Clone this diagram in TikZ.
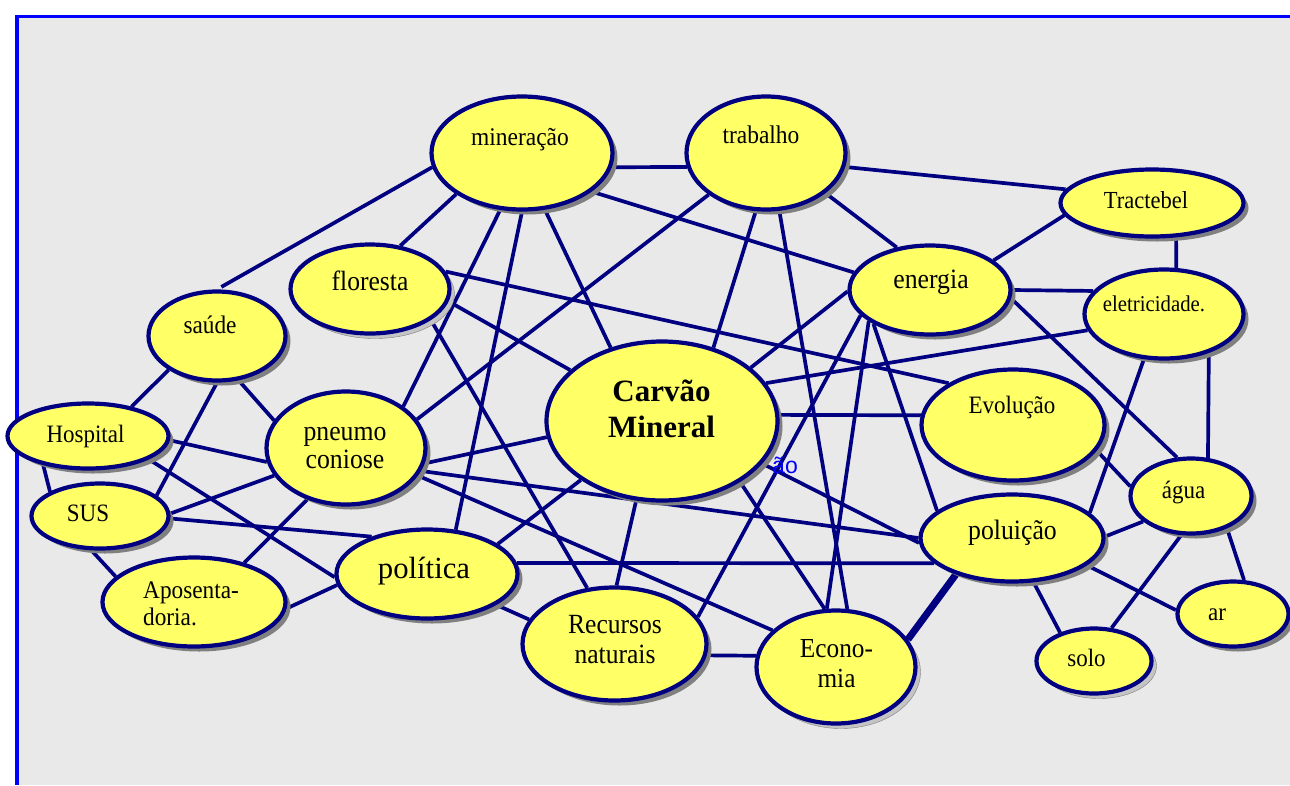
\documentclass[tikz,border=0pt]{standalone}
\usepackage{fontspec}
\setmainfont{Liberation Serif}[FakeStretch=0.92]
\newfontfamily\widefont{Liberation Serif}
\newfontfamily\blusans{Liberation Sans}
\usetikzlibrary{shapes.geometric,shadows}
\definecolor{navy}{HTML}{000080}
\definecolor{bubfill}{HTML}{FFFF66}
\definecolor{bggray}{HTML}{E9E9E9}
\definecolor{frameblue}{HTML}{0000FF}
\definecolor{shad}{HTML}{808080}
\definecolor{lshad}{HTML}{C4C4C4}
\pgfdeclarelayer{bg}
\pgfdeclarelayer{edges}
\pgfsetlayers{bg,edges,main}
\newcommand\twolc[2]{\vtop{\halign{\hfil##\hfil\cr #1\cr #2\cr}}}
\newcommand\twoll[2]{\vtop{\halign{##\hfil\cr #1\cr #2\cr}}}
\newcommand\fs[2]{\fontsize{#1}{#2}\selectfont}
\tikzset{
  bub/.style={ellipse, draw=navy, line width=4.2pt, fill=bubfill, inner sep=0pt,
    drop shadow={shadow xshift=5pt, shadow yshift=-5pt, fill=shad, opacity=1}},
  bubl/.style={ellipse, draw=navy, line width=4.2pt, fill=bubfill, inner sep=0pt,
    drop shadow={shadow xshift=5pt, shadow yshift=-5pt, fill=lshad, draw=shad, line width=0.4pt, opacity=1}},
  lbl/.style={inner sep=0pt, anchor=base, text=black},
  link/.style={draw=navy, line width=3.7pt},
  thicklink/.style={draw=navy, line width=7pt}
}
\begin{document}
\begin{tikzpicture}[x=1pt,y=-1pt]
\useasboundingbox (0,0) rectangle (1290,785);
\begin{pgfonlayer}{bg}
  \fill[white] (0,0) rectangle (1290,785);
  \fill[bggray] (17,17) rectangle (1290,785);
  \draw[frameblue, line width=3.5pt] (15,16.5) -- (1290,16.5);
  \draw[frameblue, line width=4pt] (17,15) -- (17,785);
\end{pgfonlayer}

% nodes
\node[bub, minimum width=181pt, minimum height=113pt] (min) at (522,153) {};
\node[bub, minimum width=159pt, minimum height=113pt] (trab) at (766,153) {};
\node[bub, minimum width=183pt, minimum height=67pt] (tract) at (1152,203) {};
\node[bub, minimum width=161pt, minimum height=89pt] (ener) at (930,290) {};
\node[bub, minimum width=159pt, minimum height=89pt] (elet) at (1164,314) {};
\node[bubl, minimum width=159pt, minimum height=89pt] (flor) at (370,289) {};
\node[bub, minimum width=137pt, minimum height=89pt] (saude) at (217,336) {};
\node[bub, minimum width=231pt, minimum height=159pt] (carv) at (662,421) {};
\node[bub, minimum width=183pt, minimum height=111pt] (evol) at (1013,425) {};
\node[bub, minimum width=161pt, minimum height=65pt] (hosp) at (88,436) {};
\node[bub, minimum width=159pt, minimum height=113pt] (pneu) at (346,448) {};
\node[bub, minimum width=137pt, minimum height=65pt] (sus) at (100,516) {};
\node[bub, minimum width=121pt, minimum height=75pt] (agua) at (1191,496) {};
\node[bub, minimum width=183pt, minimum height=87pt] (polu) at (1012,538) {};
\node[bub, minimum width=181pt, minimum height=89pt] (poli) at (427,574) {};
\node[bub, minimum width=183pt, minimum height=89pt] (apos) at (194,602) {};
\node[bub, minimum width=184pt, minimum height=113pt] (recu) at (614.5,644) {};
\node[bubl, minimum width=159pt, minimum height=113pt] (econ) at (836,667) {};
\node[bub, minimum width=111pt, minimum height=65pt] (ar) at (1233,614) {};
\node[bubl, minimum width=115pt, minimum height=65pt] (solo) at (1094,661) {};

% labels
\node[lbl, font=\fs{25.5}{28}] (tmin) at (520,145) {mineração};
\node[lbl, font=\fs{25.5}{28}] (ttrab) at (761,143) {trabalho};
\node[lbl, font=\fs{24.5}{27}] (ttract) at (1146,208) {Tractebel};
\node[lbl, font=\fs{28}{30}] (tener) at (931,288) {energia};
\node[lbl, font=\fs{22.6}{25}] (telet) at (1154,311) {eletricidade.};
\node[lbl, font=\fs{27.8}{30}] (tflor) at (370,290) {floresta};
\node[lbl, font=\fs{25.3}{28}] (tsaude) at (210,333) {saúde};
\node[lbl, font=\widefont\bfseries\fs{31}{36}] (tcarv) at (661.5,401) {\twolc{Carvão}{Mineral}};
\node[lbl, font=\fs{25}{28}] (tevol) at (1012,413) {Evolução};
\node[lbl, font=\fs{25}{28}] (thosp) at (85.5,442) {Hospital};
\node[lbl, font=\fs{28}{28}] (tpneu) at (345,440) {\twolc{pneumo}{coniose}};
\node[lbl, font=\fs{25}{28}] (tsus) at (88,521) {SUS};
\node[lbl, font=\fs{25}{28}] (tagua) at (1183.5,498) {água};
\node[lbl, font=\fs{28}{30}] (tpolu) at (1012.5,539) {poluição};
\node[lbl, font=\widefont\fs{30.7}{34}] (tpoli) at (424,578) {política};
\node[lbl, anchor=base west, font=\fs{25.3}{27}] (tapos) at (143,598) {\twoll{Aposenta-}{doria.}};
\node[lbl, font=\fs{27.8}{30}] (trecu) at (615,633) {\twolc{Recursos}{naturais}};
\node[lbl, font=\fs{27.5}{30}] (tecon) at (836.5,657) {\twolc{Econo-}{mia}};
\node[lbl, font=\fs{25}{28}] (tar) at (1217,620) {ar};
\node[lbl, font=\fs{25}{28}] (tsolo) at (1086.5,666) {solo};

\begin{pgfonlayer}{edges}
\draw[link] (min.-9) -- (trab.190);
\draw[link] (trab.-10) -- (tract.171);
\draw[link, shorten >=5pt] (min.189) -- (saude.90);
\draw[link] (min.212) -- (flor.55);
\draw[link] (min.249) -- (pneu.36);
\draw[link] (min.270) -- (poli.57);
\draw[link] (min.-68) -- (carv.125);
\draw[link] (min.-29) -- (ener.167);
\draw[link] (trab.216) -- (pneu.22);
\draw[link] (trab.260) -- (carv.55);
\draw[link] (trab.283) -- (econ.79);
\draw[link] (trab.-34) -- (ener.128);
\draw[link] (ener.25) -- (tract.188);
\draw[link] (tract.-55) -- (elet.75);
\draw[link] (ener.0) -- (elet.162);
\draw[link] (ener.-6) -- (agua.110);
\draw[link] (elet.192) -- (carv.20);
\draw[link] (elet.246) -- (polu.18);
\draw[link] (elet.-41) -- (agua.66);
\draw[link] (ener.181) -- (carv.31);
\draw[link] (ener.200) -- (recu.18);
\draw[link] (ener.207) -- (econ.99);
\draw[link] (ener.211) -- (polu.160);
\draw[link] (flor.13) -- (evol.147);
\draw[link] (flor.-9) -- (carv.151);
\draw[link] (flor.-27) -- (recu.116);
\draw[link] (saude.215) -- (hosp.34);
\draw[link] (saude.-90) -- (sus.20);
\draw[link] (saude.-64) -- (pneu.159);
\draw[link] (hosp.-3) -- (pneu.190);
\draw[link] (hosp.213) -- (sus.154);
\draw[link] (hosp.-21) -- (poli.182);
\draw[link] (sus.2) -- (pneu.201);
\draw[link] (sus.-2) -- (poli.146);
\draw[link] (sus.256) -- (apos.162);
\draw[link] (pneu.233) -- (apos.38);
\draw[link] (apos.-4) -- (poli.187);
\draw[link] (pneu.-11) -- (carv.188);
\draw[link] (pneu.-17) -- (polu.180);
\draw[link] (pneu.-21) -- (econ.150);
\draw[link] (poli.23) -- (carv.216);
\draw[link] (poli.7) -- (polu.198);
\draw[link] (poli.-24) -- (recu.164);
\draw[link] (carv.3) -- (evol.174);
\draw[link] (carv.252) -- (recu.88);
\draw[link] (carv.-38) -- (econ.101);
\draw[link] (carv.-23) -- (polu.183);
\draw[link] (recu.-7) -- (econ.172);
\draw[thicklink] (econ.21) -- (polu.213);
\draw[link] (evol.-17) -- (agua.171);
\draw[link] (polu.1) -- (agua.208);
\draw[link] (polu.-64) -- (solo.140);
\draw[link] (polu.-20) -- (ar.176);
\draw[link] (agua.256) -- (solo.62);
\draw[link] (agua.-42) -- (ar.72);
\node[inner sep=0pt, anchor=base east, text=frameblue, font=\blusans\fs{23}{26}] (stray) at (798,473) {ão};
\end{pgfonlayer}
\end{tikzpicture}
\end{document}
